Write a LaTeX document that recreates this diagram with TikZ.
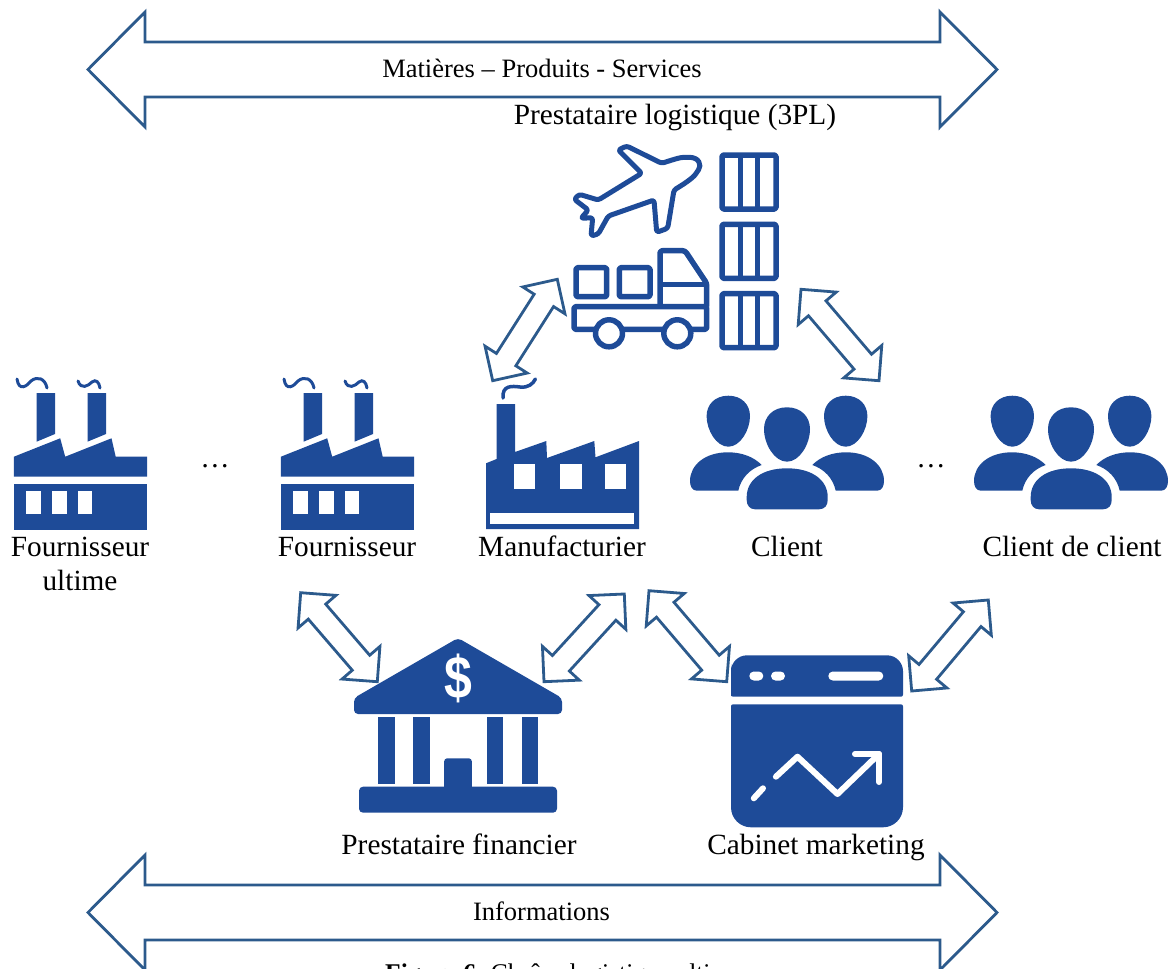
\documentclass[tikz,border=0pt]{standalone}
\usepackage{fontspec}
\setmainfont{Liberation Serif}
\newfontfamily\dollarfont{Liberation Sans}
\usetikzlibrary{calc}

\definecolor{iconblue}{HTML}{1E4B98}
\definecolor{linkblue}{HTML}{2C5A8C}

% block arrow between two coordinates : head length, head half width, shaft half width
\newcommand{\blockarrow}[5]{
  \draw[linkline] (#1)
    -- ($(#1)!#3!(#2)!#4!90:(#2)$) -- ($(#1)!#3!(#2)!#5!90:(#2)$)
    -- ($(#2)!#3!(#1)!#5!-90:(#1)$) -- ($(#2)!#3!(#1)!#4!-90:(#1)$)
    -- (#2)
    -- ($(#2)!#3!(#1)!#4!90:(#1)$) -- ($(#2)!#3!(#1)!#5!90:(#1)$)
    -- ($(#1)!#3!(#2)!#5!-90:(#2)$) -- ($(#1)!#3!(#2)!#4!-90:(#2)$)
    -- cycle;
}

% factory with two chimneys
\newcommand{\twochimneys}[1]{
  \begin{scope}[xshift=#1]
    \fill[iconfill] (36.6,393) -- (55,393) -- (55,434) -- (36.6,441.7) -- cycle;
    \fill[iconfill] (87.5,393) -- (106,393) -- (106,434) -- (87.5,441.7) -- cycle;
    \draw[smoke] (17,379) .. controls (19,392) and (27,386) .. (31,381) .. controls (37,376) and (45,378) .. (47,388);
    \draw[smoke] (78,381) .. controls (81,390) and (88,386) .. (92,382) .. controls (96,379) and (99,382) .. (100,388);
    \fill[iconfill] (13.9,456.7) -- (60.2,438.3) -- (65.2,456.7) -- (111.5,438.3) -- (115.7,456.7) -- (147,456.7) -- (147,476.7) -- (13.9,476.7) -- cycle;
    \fill[iconfill] (13.9,484) rectangle (147,529.5);
    \fill[white] (26,491) rectangle (40.8,514.3);
    \fill[white] (52.2,491) rectangle (66.5,514.3);
    \fill[white] (77.9,491) rectangle (92.2,514.3);
  \end{scope}
}

% group of three people
\newcommand{\headshape}[4]{
  \fill[iconfill,shift={(#1,#2)},xscale=#3,yscale=#4] (0,-1)
    .. controls (0.62,-1) and (1,-0.65) .. (1,-0.2)
    .. controls (1,0.35) and (0.55,1) .. (0,1)
    .. controls (-0.55,1) and (-1,0.35) .. (-1,-0.2)
    .. controls (-1,-0.65) and (-0.62,-1) .. (0,-1) -- cycle;
}
\newcommand{\sidebody}{
  \fill[iconfill] (738.3,490.7) -- (697,490.7) .. controls (692,490.7) and (690,486) .. (690,481)
    .. controls (690,465) and (705,452.3) .. (728,452.3)
    .. controls (742,452.3) and (754,457) .. (761.7,465)
    .. controls (750,469) and (741,478) .. (738.3,490.7) -- cycle;
}
\newcommand{\peoplegroup}[1]{
  \begin{scope}[xshift=#1]
    \headshape{728.3}{421.2}{21.7}{25.5}
    \headshape{845.7}{421.2}{21.7}{25.5}
    \headshape{787}{434.5}{23}{27.2}
    \sidebody
    \begin{scope}[xscale=-1,xshift=-1574pt]
      \sidebody
    \end{scope}
    \fill[iconfill] (755,509.3) .. controls (749.5,509.3) and (746.7,505) .. (746.7,500) -- (746.7,497)
      .. controls (746.7,480) and (762,468.3) .. (787,468.3)
      .. controls (812,468.3) and (827.7,480) .. (827.7,497) -- (827.7,500)
      .. controls (827.7,505) and (825,509.3) .. (819,509.3) -- cycle;
  \end{scope}
}

% one stacked container
\newcommand{\containerbox}[1]{
  \begin{scope}[shift={(0,#1)}]
    \draw[outline,rounded corners=1.5pt] (722,155) rectangle (776,209);
    \draw[outline] (740.3,155) -- (740.3,209);
    \draw[outline] (757.7,155) -- (757.7,209);
  \end{scope}
}

\begin{document}
\begin{tikzpicture}[x=1pt,y=-1pt]
  \tikzstyle{iconfill}=[fill=iconblue];
  \tikzstyle{outline}=[draw=iconblue,line width=5.5pt,line join=round];
  \tikzstyle{smoke}=[draw=iconblue,line width=3pt,line cap=round];
  \tikzstyle{linkline}=[draw=linkblue,line width=2.8pt,line join=miter];
  \tikzstyle{actor}=[font=\fontsize{29.3}{34}\selectfont,align=center,inner sep=0pt,anchor=base];
  \tikzstyle{flowtext}=[font=\fontsize{26.5}{30}\selectfont,inner sep=0pt,anchor=base];

  \useasboundingbox (0,0) rectangle (1171,969);
  \clip (0,0) rectangle (1171,969);

  % ends of the two long arrows
  \coordinate (goodsL) at (88,69.5);
  \coordinate (goodsR) at (997,69.5);
  \coordinate (infoL) at (88,912.5);
  \coordinate (infoR) at (997,912.5);

  % ends of the small arrows
  \coordinate (truckA) at (557.3,279.3);
  \coordinate (manufA) at (492.7,380.7);
  \coordinate (truckB) at (801,289.3);
  \coordinate (clientA) at (879,380.7);
  \coordinate (supplierA) at (300.7,592.7);
  \coordinate (bankA) at (377.3,681.7);
  \coordinate (manufB) at (624.3,594);
  \coordinate (bankB) at (544,681.7);
  \coordinate (manufC) at (649,590.7);
  \coordinate (cabinetA) at (726.7,681.7);
  \coordinate (clientB) at (988.3,600);
  \coordinate (cabinetB) at (911.7,691);

  % goods <=> goods, informations <=> informations
  \blockarrow{goodsL}{goodsR}{57pt}{57.5pt}{27.5pt}
  \blockarrow{infoL}{infoR}{57pt}{57.5pt}{27.5pt}

  % truck <=> manufacturer, truck <=> client
  \blockarrow{truckA}{manufA}{25pt}{25pt}{11.5pt}
  \blockarrow{truckB}{clientA}{25pt}{25pt}{11.5pt}

  % bank <=> supplier, bank <=> manufacturer
  \blockarrow{supplierA}{bankA}{25pt}{25pt}{11.5pt}
  \blockarrow{manufB}{bankB}{25pt}{25pt}{11.5pt}

  % cabinet <=> manufacturer, cabinet <=> client
  \blockarrow{manufC}{cabinetA}{25pt}{25pt}{11.5pt}
  \blockarrow{clientB}{cabinetB}{25pt}{25pt}{11.5pt}

  % plane
  \draw[outline,line width=5pt,rounded corners=2.5pt] (661.7,163.3) .. controls (672,160) and (680,157.3) .. (686.7,157.3)
    .. controls (699,157.3) and (702,165) .. (697,172) .. controls (693,178) and (684,184) .. (674,190)
    -- (667.7,228.3) -- (656.7,232.3) -- (654,200) -- (608.3,216) -- (598.3,234) -- (591,236) -- (592.7,217.7)
    -- (581,218.3) -- (588.3,210) -- (574.3,199.3) -- (579.3,194.3) -- (598.3,200) -- (641.7,173.3)
    -- (618.3,150) -- (626.7,146) -- cycle;

  % truck
  \draw[outline,rounded corners=1.5pt] (576,267.7) rectangle (606.7,296.7);
  \draw[outline,rounded corners=1.5pt] (619.3,267.7) rectangle (650,296.7);
  \draw[outline,rounded corners=1.5pt] (574,306.7) rectangle (706.7,329.3);
  \draw[outline,rounded corners=2.5pt] (660,306.7) -- (660,250.7) -- (685,250.7) -- (706.7,283.3) -- (706.7,306.7);
  \draw[outline] (660,284.3) -- (706.7,284.3);
  \draw[outline,fill=white] (609,333.3) circle (13.5);
  \draw[outline,fill=white] (677.3,333.3) circle (13.5);

  % containers
  \containerbox{0}
  \containerbox{69.3}
  \containerbox{138.7}

  % factories
  \twochimneys{0pt}
  \twochimneys{267pt}

  \fill[iconfill] (486,463.3) -- (496.6,459) -- (496.6,404) -- (515,404) -- (515,452) -- (546.3,441) -- (547,458)
    -- (594.3,441) -- (595.5,457.3) -- (639,441) -- (639,529) -- (486,529) -- cycle;
  \fill[white] (513.5,464.3) rectangle (534.5,489);
  \fill[white] (559.8,464.3) rectangle (582,489);
  \fill[white] (604.8,464.3) rectangle (626.3,489);
  \fill[white] (490.3,513.3) rectangle (634.3,524.3);
  \draw[smoke,line width=3.5pt] (503,398) .. controls (502,385) and (512,386) .. (520,387) .. controls (528,388) and (533,384) .. (535.4,379);

  % people
  \peoplegroup{0pt}
  \peoplegroup{284pt}

  % bank
  \fill[iconfill,rounded corners=4pt] (458,638) -- (354,698) -- (354,714) -- (562,714) -- (562,698) -- cycle;
  \node[text=white,font=\fontsize{50}{50}\selectfont\dollarfont\bfseries,inner sep=0pt,yscale=1.2] (dollar) at (458,678) {\$};
  \fill[iconfill] (378,716.7) rectangle (395,784.3);
  \fill[iconfill] (413.4,716.7) rectangle (429.5,784.3);
  \fill[iconfill] (486.5,716.7) rectangle (503,784.3);
  \fill[iconfill] (521.5,716.7) rectangle (538,784.3);
  \fill[iconfill,rounded corners=3pt] (444.2,790) -- (444.2,758.3) -- (471.8,758.3) -- (471.8,790) -- cycle;
  \fill[iconfill,rounded corners=4pt] (359,786.7) rectangle (557,812.7);

  % marketing window
  \fill[iconfill] [rounded corners=2pt] (731,680) -- (731,696.7) -- (903,696.7) -- (903,680) [rounded corners=16pt] -- (903,655.3) -- (731,655.3) -- cycle;
  \fill[white,rounded corners=4.5pt] (749.3,671.5) rectangle (763.3,680.5);
  \fill[white,rounded corners=4.5pt] (771,671.5) rectangle (785,680.5);
  \fill[white,rounded corners=4.5pt] (828.3,671.5) rectangle (883.3,680.5);
  \fill[iconfill] [rounded corners=2pt] (731,770) -- (731,704.3) -- (903,704.3) -- (903,770) [rounded corners=20pt] -- (903,827.3) -- (731,827.3) -- cycle;
  \draw[white,line width=6pt,line cap=round] (753.8,798.3) -- (763,788.3);
  \draw[white,line width=6pt,line cap=round,line join=round] (775.9,776.7) -- (797.5,756.7) -- (837.5,794) -- (879,754);
  \draw[white,line width=6pt,line cap=round,line join=round] (855,754) -- (879,754) -- (879,782);

  % texts
  \node[flowtext] (goods) at (542,77) {Matières – Produits - Services};
  \node[flowtext] (infos) at (541.5,920) {Informations};
  \node[actor] (provider) at (675,124) {Prestataire logistique (3PL)};
  \node[actor] (ultimate) at (80,556) {Fournisseur};
  \node[actor] (ultimateB) at (80,590) {ultime};
  \node[actor] (supplier) at (347,556) {Fournisseur};
  \node[actor] (manufacturer) at (562,556) {Manufacturier};
  \node[actor] (client) at (787,556) {Client};
  \node[actor] (clientclient) at (1072,556) {Client de client};
  \node[actor] (financial) at (459,854) {Prestataire financier};
  \node[actor] (cabinet) at (816,854) {Cabinet marketing};
  \node[actor] (dotsA) at (215,467) {…};
  \node[actor] (dotsB) at (931,467) {…};
  \node[flowtext,font=\fontsize{25.5}{30}\selectfont,anchor=base west] (caption) at (385,981) {\textbf{Figure 6.} Chaîne logistique ultime};

\end{tikzpicture}
\end{document}
